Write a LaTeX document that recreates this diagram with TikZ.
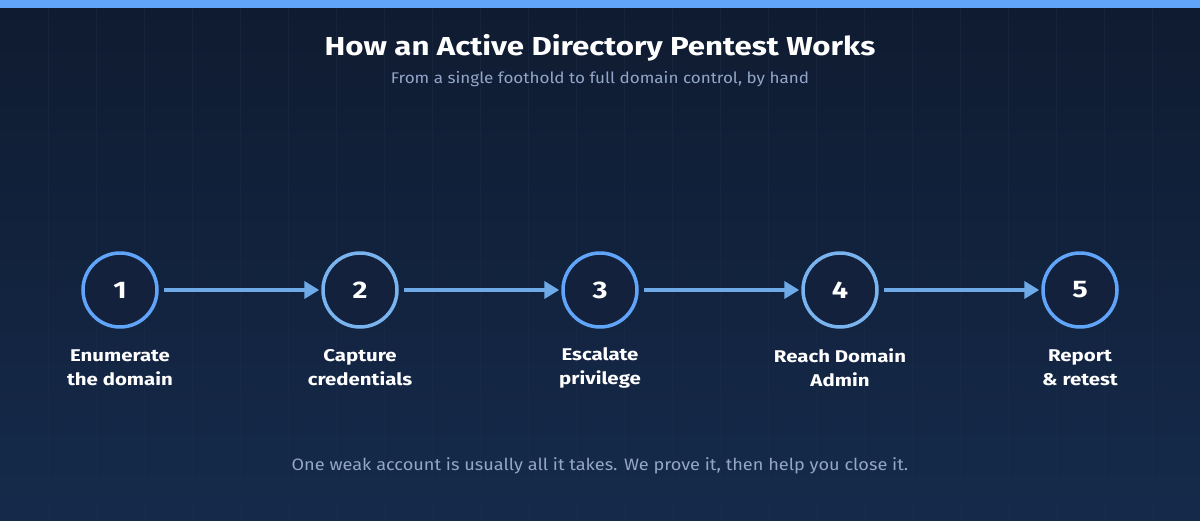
\documentclass[tikz,border=0pt]{standalone}
\usepackage{fontspec}
\setmainfont{Fira Sans}[FakeStretch=1.1, BoldFeatures={FakeStretch=1.2}]
\usetikzlibrary{arrows.meta}
\definecolor{bgtop}{HTML}{0F1B30}
\definecolor{bgbot}{HTML}{152A4B}
\definecolor{barblue}{HTML}{60A5FA}
\definecolor{ringA}{HTML}{60A5FA}
\definecolor{ringB}{HTML}{7AB4EE}
\definecolor{arrowc}{HTML}{6FAAE8}
\definecolor{fillc}{HTML}{13213D}
\definecolor{subtxt}{HTML}{93A6C8}
\definecolor{gridc}{HTML}{1E2D48}
\tikzset{
  ring/.style={circle, minimum size=74pt, line width=3.5pt, fill=fillc, text=white,
    font=\fontsize{24}{28}\selectfont\bfseries, inner sep=0pt},
  steplabel/.style={text=white, font=\fontsize{17}{24}\selectfont\bfseries, align=center},
  flow/.style={arrowc, line width=4.5pt, -{Triangle[length=15pt,width=17pt]}, shorten <=5pt, shorten >=2pt}
}
\begin{document}
\begin{tikzpicture}[x=1pt,y=-1pt]
\useasboundingbox (0,0) rectangle (1200,520);
\shade[top color=bgtop, bottom color=bgbot] (0,0) rectangle (1200,520);
\foreach \x in {48,96,...,1199} \draw[gridc, line width=0.8pt, opacity=0.45] (\x,8) -- (\x,520);
\fill[barblue] (0,0) rectangle (1200,8);
\node[text=white, font=\fontsize{26}{30}\selectfont\bfseries] (title) at (600,47.5) {How an Active Directory Pentest Works};
\node[text=subtxt, font=\fontsize{15.5}{18}\selectfont] (sub) at (600,79) {From a single foothold to full domain control, by hand};
\node[ring, draw=ringA] (c1) at (120,290) {1};
\node[ring, draw=ringB] (c2) at (360,290) {2};
\node[ring, draw=ringA] (c3) at (600,290) {3};
\node[ring, draw=ringB] (c4) at (840,290) {4};
\node[ring, draw=ringA] (c5) at (1080,290) {5};
\draw[flow] (c1) -- (c2);
\draw[flow] (c2) -- (c3);
\draw[flow] (c3) -- (c4);
\draw[flow] (c4) -- (c5);
\node[steplabel] (l1) at (120,367.5) {Enumerate\\the domain};
\node[steplabel] (l2) at (360,367.5) {Capture\\credentials};
\node[steplabel] (l3) at (600,367.5) {Escalate\\privilege};
\node[steplabel] (l4) at (840,367.5) {Reach Domain\\Admin};
\node[steplabel] (l5) at (1080,367.5) {Report\\\& retest};
\node[text=subtxt, font=\fontsize{16.5}{20}\selectfont] (foot) at (600,466) {One weak account is usually all it takes. We prove it, then help you close it.};
\end{tikzpicture}
\end{document}
